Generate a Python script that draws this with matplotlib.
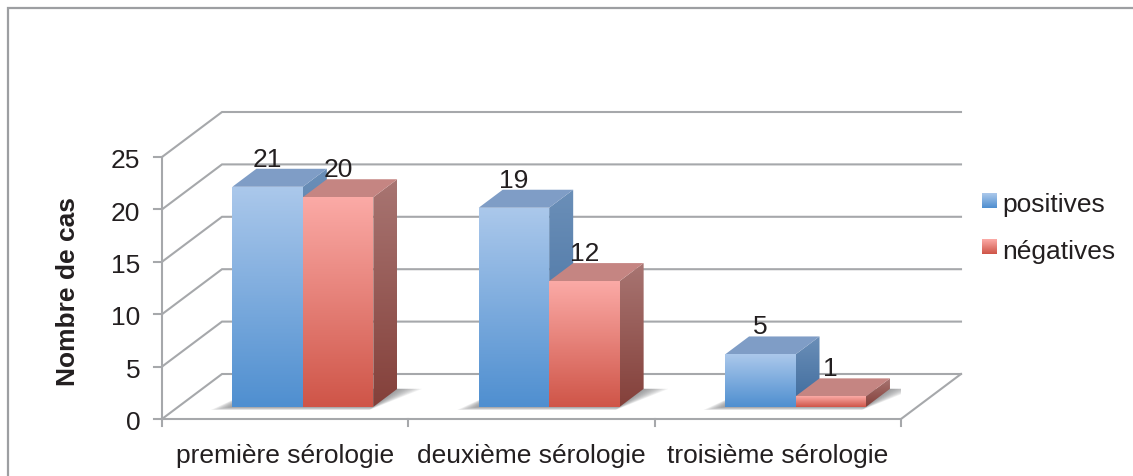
import matplotlib
matplotlib.use("Agg")
import matplotlib.pyplot as plt
from matplotlib.colors import LinearSegmentedColormap
from matplotlib.patches import Polygon
import numpy as np

plt.rcParams["font.family"] = ["Liberation Sans", "DejaVu Sans"]

categories = ["première sérologie", "deuxième sérologie", "troisième sérologie"]
positives = [21, 19, 5]
negatives = [20, 12, 1]
y_ticks = [0, 5, 10, 15, 20, 25]
series_names = ["positives", "négatives"]
y_title = "Nombre de cas"

W, H = 1133, 477
GREY = "#a6a8ab"
TEXT = "#231f20"
FS = 19

# depth of the 3d box, in axis units (60 px right, 45 px up)
DX = 60 / 739 * 3
DY = 45 / 262 * 25
BAR_W = 0.286
BAR_LEFT = 0.22
D0, D1 = 0.27, 0.67

blue = {"front": ("#4f8fd0", "#abc8eb"), "side": ("#3d6a9c", "#6b8fb8"), "top": "#7f9dc6"}
red = {"front": ("#cf5548", "#fbaaa6"), "side": ("#84403a", "#a87572"), "top": "#c58582"}


def proj(x, y, d):
    return x + d * DX, y + d * DY


def grad_poly(ax, pts, colors, y0, y1, zorder):
    # vertical gradient clipped to a polygon
    xs = [p[0] for p in pts]
    cmap = LinearSegmentedColormap.from_list("g", colors)
    im = ax.imshow(np.linspace(1, 0, 128).reshape(-1, 1), cmap=cmap, aspect="auto",
                   extent=(min(xs), max(xs), y0, y1), zorder=zorder, origin="upper")
    poly = Polygon(pts, closed=True, transform=ax.transData, fc="none", ec="none")
    ax.add_patch(poly)
    im.set_clip_path(poly)


def draw_shadow(ax, left, right, zorder):
    # soft grey shadow lying on the floor
    for k in np.linspace(0, 1, 10):
        a = proj(left - 0.07 * k, 0, D0 - 0.07 * k)
        b = proj(right, 0, D0 - 0.07 * k)
        c = proj(right + 0.1 * k, 0, D1)
        d = proj(left, 0, D1)
        ax.add_patch(Polygon([a, b, c, d], closed=True, fc="#6d6e71", ec="none", alpha=0.1, zorder=zorder))


def draw_bar(ax, left, value, style, zorder):
    right = left + BAR_W
    fbl = proj(left, 0, D0)
    fbr = proj(right, 0, D0)
    ftl = proj(left, value, D0)
    ftr = proj(right, value, D0)
    bbr = proj(right, 0, D1)
    btr = proj(right, value, D1)
    btl = proj(left, value, D1)
    grad_poly(ax, [fbr, bbr, btr, ftr], style["side"], fbr[1], btr[1], zorder)
    ax.add_patch(Polygon([ftl, ftr, btr, btl], closed=True, fc=style["top"], ec="none", zorder=zorder))
    grad_poly(ax, [fbl, fbr, ftr, ftl], style["front"], fbl[1], ftl[1], zorder + 0.1)
    ax.text(proj(left + BAR_W / 2, 0, D0)[0], btr[1] + 0.3, str(value), ha="center", va="baseline",
            fontsize=FS, color=TEXT, zorder=20, clip_on=False)


fig = plt.figure(figsize=(W / 100, H / 100), dpi=100, facecolor="white")
ax = fig.add_axes([162 / W, 1 - 420 / H, 739 / W, 262 / H])
ax.axis("off")

# walls: gridlines on the back wall and the side wall
for t in y_ticks:
    x0, y0 = proj(0, t, 0)
    x1, y1 = proj(0, t, 1)
    x2, y2 = proj(3, t, 1)
    ax.plot([x0, x1, x2], [y0, y1, y2], color=GREY, lw=1.5, clip_on=False, zorder=1, solid_joinstyle="miter")
    ax.plot([-0.032, 0], [t, t], color=GREY, lw=1.5, clip_on=False, zorder=1)
    ax.text(-0.088, t - 0.3, str(t), ha="right", va="center", fontsize=FS, color=TEXT, clip_on=False)

# floor and front axes
ax.plot([0, 0], [0, 25], color=GREY, lw=1.5, clip_on=False, zorder=1)
ax.plot([0, 3, 3 + DX], [0, 0, DY], color=GREY, lw=1.5, clip_on=False, zorder=1)
for i in range(len(categories) + 1):
    ax.plot([i, i], [0, -0.67], color=GREY, lw=1.5, clip_on=False, zorder=1)
for i, c in enumerate(categories):
    ax.text(i + 0.5, -3.4, c, ha="center", va="center", fontsize=FS, color=TEXT, clip_on=False)

for i in range(len(categories)):
    left = i + BAR_LEFT
    draw_shadow(ax, left, left + 2 * BAR_W, 2)
    draw_bar(ax, left, positives[i], blue, 3)
    draw_bar(ax, left + BAR_W, negatives[i], red, 4)

ax.set_xlim(0, 3)
ax.set_ylim(0, 25)

ax.text(-0.382, 12.3, y_title, rotation=90, ha="center", va="center", fontsize=19,
        fontweight="bold", color=TEXT, clip_on=False)

# legend, built by hand for the gradient swatches
over = fig.add_axes([0, 0, 1, 1], zorder=5)
over.axis("off")
over.patch.set_alpha(0)
for name, style, yc, tc in zip(series_names, (blue, red), (201.5, 247), (205, 252)):
    cmap = LinearSegmentedColormap.from_list("g", style["front"])
    over.imshow(np.linspace(0, 1, 32).reshape(-1, 1)[::-1], cmap=cmap, aspect="auto",
                extent=(982, 997, yc - 7.5, yc + 7.5), origin="lower")
    over.text(1002, tc, name, ha="left", va="center", fontsize=FS, color=TEXT)
over.set_xlim(0, W)
over.set_ylim(H, 0)

# outer frame of the picture
over.plot([7.5, 7.5, W], [H, 9, 9], color="#9d9fa2", lw=1.6, clip_on=False, solid_joinstyle="miter")

fig.savefig("out.png", dpi=100, facecolor="white")
